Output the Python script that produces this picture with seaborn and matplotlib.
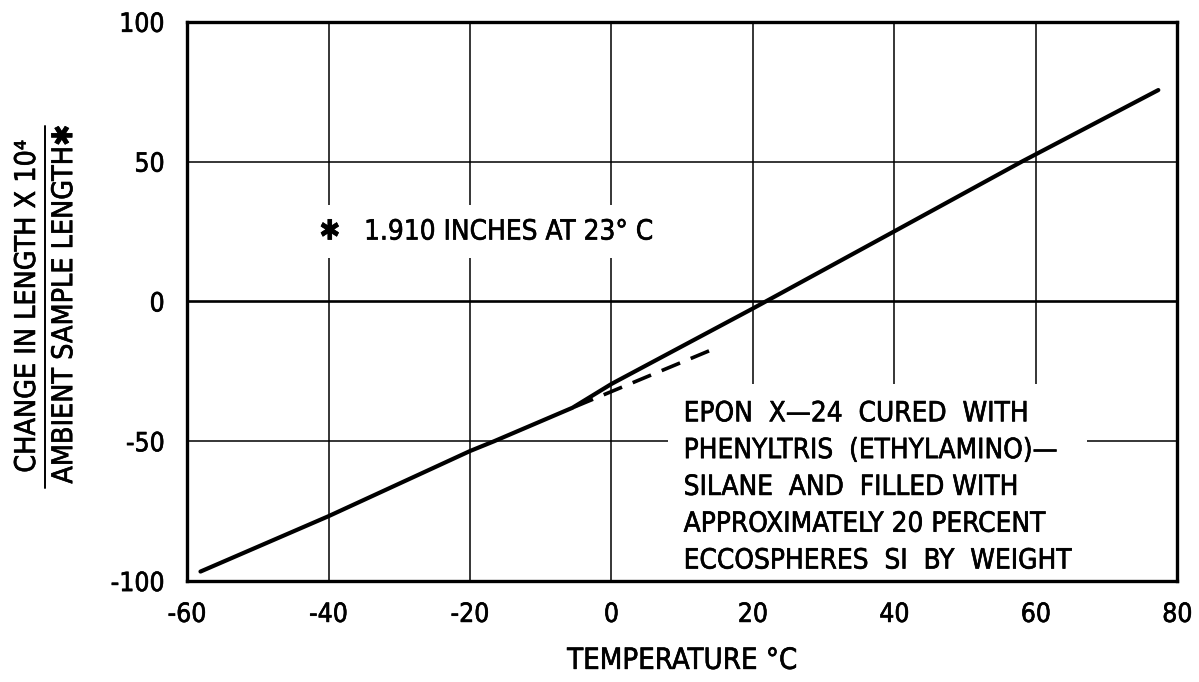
import matplotlib
matplotlib.use("Agg")
import matplotlib.pyplot as plt
from matplotlib import font_manager
from matplotlib.font_manager import FontProperties
from matplotlib.lines import Line2D
import matplotlib.patheffects as pe
import seaborn as sns
import pandas as pd

# Thermal expansion curve (change in length x 10^4 / ambient sample length)
temp_heating = [-58.1, -40, -20, -16.6, -5.5, 0, 20, 40, 58, 77.3]
length_heating = [-96.6, -76.8, -53.5, -50, -38, -29.5, -2.5, 25.1, 50, 75.6]
temp_branch = [-5.2, 15]
length_branch = [-37.7, -16.4]

x_ticks = [-60, -40, -20, 0, 20, 40, 60, 80]
x_tick_labels = ["-60", "-40", "-20", "0", "20", "40", "60", "80"]
y_ticks = [-100, -50, 0, 50, 100]
y_tick_labels = ["-100", "-50", "0", "50", "100"]

sample_note = "\u2731   1.910 INCHES AT 23\u00b0 C"
material_note = ("EPON  X\u201424  CURED  WITH\n"
                 "PHENYLTRIS  (ETHYLAMINO)\u2014\n"
                 "SILANE  AND  FILLED WITH\n"
                 "APPROXIMATELY 20 PERCENT\n"
                 "ECCOSPHERES  SI  BY  WEIGHT")

sns.set_theme(style="white")
plt.rcParams["font.family"] = ["DejaVu Sans"]


def narrow_font_file():
    """Look for a narrow sans face that suits hand-lettered drafting text."""
    wanted = [("Liberation Sans Narrow", ("normal", "condensed", "semi-condensed")),
              ("DejaVu Sans", ("condensed", "semi-condensed")),
              ("Noto Sans", ("condensed", "semi-condensed")),
              ("Open Sans", ("condensed", "semi-condensed"))]
    for name, stretches in wanted:
        for f in font_manager.fontManager.ttflist:
            if (f.name == name and f.stretch in stretches and f.style == "normal"
                    and f.weight in (400, "normal", "regular", "book")):
                return f.fname
    return None


font_file = narrow_font_file()
pen = [pe.withStroke(linewidth=0.45, foreground="black")]


def font(size):
    if font_file:
        return FontProperties(fname=font_file, size=size)
    return FontProperties(family="DejaVu Sans", size=size * 0.85)


fig = plt.figure(figsize=(11.99, 6.82), dpi=100)
ax = fig.add_axes([0.156, 0.148, 0.826, 0.820])

df_main = pd.DataFrame({"t": temp_heating, "dl": length_heating})
df_branch = pd.DataFrame({"t": temp_branch, "dl": length_branch})
sns.lineplot(data=df_main, x="t", y="dl", ax=ax, color="black", lw=3.0,
             solid_capstyle="round", solid_joinstyle="round", zorder=4, sort=False)
sns.lineplot(data=df_branch, x="t", y="dl", ax=ax, color="black", lw=2.6,
             zorder=4, sort=False)
ax.lines[-1].set_dashes([5.5, 3.2])

ax.set_xlim(x_ticks[0], x_ticks[-1])
ax.set_ylim(y_ticks[0], y_ticks[-1])

# grid drawn under the annotation boxes
for xv in x_ticks[1:-1]:
    ax.axvline(xv, color="black", lw=1.1, zorder=0.5)
for yv in y_ticks[1:-1]:
    ax.axhline(yv, color="black", lw=1.9 if yv == 0 else 1.1, zorder=0.5)

ax.set_xticks(x_ticks)
ax.set_xticklabels(x_tick_labels)
ax.set_yticks(y_ticks)
ax.set_yticklabels(y_tick_labels)
ax.tick_params(axis="x", direction="in", length=8, width=1.1, pad=15,
               colors="black")
ax.tick_params(axis="y", direction="in", length=0, pad=16, colors="black")
for lbl in ax.get_xticklabels() + ax.get_yticklabels():
    lbl.set_fontproperties(font(19))
    lbl.set_path_effects(pen)
ax.set_axisbelow(False)
ax.grid(False)
for s in ax.spines.values():
    s.set_color("black")
    s.set_linewidth(2.4)
    s.set_zorder(5)

ax.set_xlabel("")
ax.set_ylabel("")

ax.text(-41.3, 25, sample_note, fontproperties=font(20), ha="left",
        va="center", color="black", zorder=3, path_effects=pen,
        bbox=dict(boxstyle="square,pad=0.45", fc="white", ec="none"))

ax.text(10.2, -35.0, material_note, fontproperties=font(20), ha="left",
        va="top", color="black", linespacing=1.4, zorder=1.5, path_effects=pen,
        bbox=dict(boxstyle="square,pad=0.55", fc="white", ec="none"))

# axis titles
fig.text(0.569, 0.031, "TEMPERATURE \u00b0C", fontproperties=font(21),
         ha="center", va="center", color="black", path_effects=pen)
fig.text(0.0225, 0.551, "CHANGE IN LENGTH X 10\u2074", fontproperties=font(20.5),
         rotation=90, ha="center", va="center", color="black", path_effects=pen)
fig.text(0.0535, 0.554, "AMBIENT SAMPLE LENGTH\u2731", fontproperties=font(20.5),
         rotation=90, ha="center", va="center", color="black", path_effects=pen)
fig.add_artist(Line2D([0.0375, 0.0375], [0.284, 0.815], color="black",
                      lw=1.4, transform=fig.transFigure))

fig.savefig("out.png", dpi=100, facecolor="white")
